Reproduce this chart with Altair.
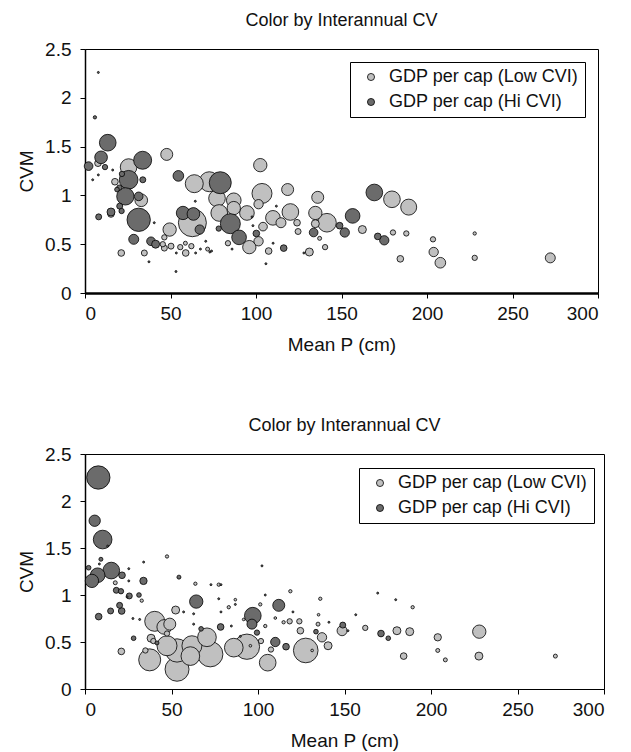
import altair as alt
import pandas as pd

LOW = "GDP per cap (Low CVI)"
HI = "GDP per cap (Hi CVI)"
TITLE = "Color by Interannual CV"
FONT = "Liberation Sans"

# ---------------- top panel (bubble size = GDP per cap) ----------------
top_x = [7.8, 5.8, 13.3, 9.4, 7.6, 2.1, 11.7, 4.5, 7.8, 16.2, 25.5, 25.5, 33.7, 21.6, 17.5, 33.8,
         20.1, 18.7, 23.6, 31.4, 32.9, 20.3, 15.2, 15.2, 21.4, 8.0, 31.4, 40.5, 28.5, 21.2, 34.7,
         37.4, 38.6, 41.3, 47.8, 54.6, 49.5, 46.4, 46.4, 45.5, 50.3, 53.4, 53.2, 55.7, 58.7, 58.9,
         62.2, 64.7, 57.3, 62.8, 63.4, 63.9, 64.5, 67.1, 70.6, 67.5, 71.7, 73.0, 74.0, 72.7, 79.1,
         77.2, 78.5, 87.0, 87.0, 85.0, 90.1, 94.7, 96.1, 83.6, 86.0, 78.2, 97.7, 98.2, 100.2,
         102.5, 101.5, 103.5, 118.5, 111.9, 120.1, 109.9, 114.6, 124.0, 124.6, 104.1, 101.5,
         107.4, 110.0, 116.2, 105.8, 131.2, 128.0, 140.4, 136.1, 134.7, 141.5, 134.7, 137.2,
         133.7, 148.9, 151.9, 156.5, 162.2, 169.2, 179.5, 189.3, 171.2, 175.0, 180.1, 187.9,
         184.4, 203.5, 203.9, 207.8, 227.9, 227.9, 272.1]
top_y = [2.26, 1.80, 1.54, 1.39, 1.33, 1.30, 1.29, 1.16, 1.21, 1.26, 1.29, 1.16, 1.36, 1.22, 1.14, 1.16,
         1.08, 1.06, 0.99, 0.99, 0.95, 0.89, 0.83, 0.81, 0.84, 0.78, 0.75, 0.72, 0.55, 0.41, 0.41,
         0.32, 0.53, 0.50, 1.42, 1.20, 0.65, 0.57, 0.46, 0.50, 0.48, 0.41, 0.22, 0.47, 0.51, 0.41,
         0.48, 0.41, 0.82, 0.72, 0.81, 1.12, 0.94, 0.65, 0.53, 0.45, 0.45, 0.42, 0.43, 1.14, 1.13,
         0.97, 0.82, 0.95, 0.87, 0.71, 0.57, 0.82, 0.47, 0.51, 0.45, 0.66, 0.78, 0.69, 0.61,
         1.31, 0.91, 1.02, 1.06, 0.89, 0.83, 0.77, 0.72, 0.72, 0.63, 0.68, 0.53,
         0.43, 0.51, 0.46, 0.30, 0.42, 0.41, 0.47, 0.98, 0.82, 0.72, 0.71, 0.56,
         0.62, 0.69, 0.62, 0.79, 0.65, 1.03, 0.96, 0.88, 0.58, 0.54, 0.62, 0.61,
         0.35, 0.55, 0.42, 0.31, 0.61, 0.36, 0.36]
top_gdp = [0.09, 0.25, 6.25, 3.61, 1.0, 1.69, 0.64, 0.09, 0.09, 0.09, 6.25, 7.84, 7.29, 0.64, 1.0, 0.81,
           0.64, 0.49, 6.76, 1.69, 3.61, 0.81, 1.44, 1.0, 0.64, 0.81, 12.25, 0.09, 2.25, 1.0, 0.81,
           0.09, 1.69, 1.44, 3.24, 2.56, 4.0, 0.64, 0.81, 0.64, 0.81, 0.09, 0.09, 0.64, 0.36, 1.0,
           0.64, 0.09, 4.0, 17.64, 3.61, 7.29, 0.09, 1.96, 0.09, 0.09, 0.36, 0.09, 0.09, 9.0, 10.89,
           6.25, 6.25, 4.84, 4.0, 9.0, 4.84, 4.84, 4.0, 0.64, 0.09, 0.64, 0.09, 0.09, 1.0,
           4.0, 1.96, 9.0, 3.24, 0.09, 6.25, 4.84, 2.25, 1.0, 0.81, 1.69, 1.96,
           1.0, 0.09, 1.0, 0.09, 1.44, 0.09, 0.64, 3.24, 4.0, 7.84, 1.44, 0.36,
           1.69, 1.0, 1.96, 4.84, 1.44, 6.25, 6.25, 5.76, 1.0, 1.96, 0.64, 0.64,
           1.0, 0.64, 1.96, 2.56, 0.25, 0.64, 2.25]
top_cvi = ["H", "H", "H", "H", "L", "H", "H", "H", "H", "H", "L", "H", "H", "H", "L", "H",
           "H", "H", "H", "H", "L", "H", "H", "L", "H", "H", "H", "H", "H", "L", "L",
           "H", "H", "H", "L", "H", "L", "L", "L", "L", "L", "H", "H", "L", "L", "L",
           "L", "H", "H", "L", "H", "L", "H", "H", "H", "H", "L", "H", "H", "L", "H",
           "L", "L", "L", "L", "H", "H", "L", "L", "L", "H", "H", "H", "H", "H",
           "L", "L", "L", "L", "H", "L", "L", "L", "L", "L", "L", "L",
           "L", "H", "H", "H", "L", "H", "L", "L", "L", "L", "L", "L",
           "H", "H", "H", "H", "L", "H", "L", "L", "H", "H", "L", "L",
           "L", "L", "L", "L", "L", "L", "L"]

# ---------------- bottom panel ----------------
bot_x = [7.7, 5.6, 10.2, 13.1, 9.2, 8.3, 2.1, 7.3, 4.0, 15.2, 21.4, 25.3, 25.3, 33.9, 33.8, 17.5,
         18.1, 20.8, 25.6, 24.3, 31.2, 32.8, 20.0, 14.8, 21.2, 7.9, 27.7, 31.6, 40.3, 45.8, 49.0,
         52.4, 54.3, 47.4, 28.1, 21.0, 38.2, 37.4, 41.6, 53.2, 53.2, 47.4, 72.4, 70.5, 61.8, 60.9,
         64.3, 62.8, 57.0, 67.1, 62.8, 63.8, 72.8, 77.3, 78.6, 77.3, 78.6, 78.4, 83.1, 86.9, 86.9,
         84.6, 86.0, 89.8, 93.6, 95.6, 97.0, 91.7, 34.9, 47.4, 39.5, 102.3, 96.5, 112.0, 118.7,
         104.2, 101.3, 120.2, 110.0, 114.8, 118.3, 123.9, 124.5, 104.2, 99.4, 101.7, 110.0, 107.5,
         105.6, 116.2, 127.6, 131.3, 136.0, 135.0, 141.0, 134.7, 133.5, 137.0, 140.5, 148.6,
         149.0, 152.0, 156.5, 162.0, 169.2, 171.1, 175.3, 179.6, 180.3, 187.7, 184.2, 189.4,
         203.9, 203.9, 208.3, 227.9, 227.7, 271.9]
bot_y = [2.25, 1.79, 1.59, 1.52, 1.38, 1.33, 1.29, 1.21, 1.15, 1.26, 1.21, 1.28, 1.15, 1.35, 1.15, 1.13,
         1.05, 1.04, 0.99, 0.98, 1.00, 0.94, 0.89, 0.83, 0.83, 0.77, 0.75, 0.74, 0.72, 0.66, 0.69,
         0.84, 1.19, 1.41, 0.54, 0.40, 0.54, 0.31, 0.49, 0.41, 0.21, 0.46, 0.37, 0.55, 0.46, 0.35,
         0.93, 0.80, 0.82, 0.64, 0.69, 1.12, 1.11, 1.11, 1.11, 0.96, 0.82, 0.66, 0.87, 0.90, 0.95,
         0.67, 0.44, 0.56, 0.45, 0.46, 0.78, 0.74, 0.41, 0.59, 0.51, 1.31, 0.69, 0.89, 1.04,
         1.00, 0.90, 0.82, 0.755, 0.71, 0.72, 0.72, 0.62, 0.67, 0.60, 0.51, 0.50, 0.42,
         0.28, 0.45, 0.41, 0.41, 0.96, 0.79, 0.71, 0.69, 0.61, 0.55, 0.46, 0.62,
         0.68, 0.62, 0.79, 0.65, 1.02, 0.59, 0.54, 0.95, 0.62, 0.61, 0.35, 0.87,
         0.55, 0.41, 0.31, 0.61, 0.35, 0.35]
bot_gdp = [12.25, 2.89, 7.84, 0.09, 0.36, 0.09, 0.49, 4.84, 4.0, 6.25, 1.0, 0.09, 0.09, 0.09, 1.21, 0.36,
           0.81, 0.64, 0.81, 0.09, 0.49, 0.25, 0.81, 0.81, 1.0, 1.0, 0.09, 0.09, 9.0, 4.84, 3.24,
           1.44, 0.36, 0.25, 0.49, 1.0, 1.44, 10.89, 0.36, 12.25, 12.96, 9.0, 14.44, 7.84, 9.0, 7.84,
           4.0, 0.09, 0.09, 0.49, 0.09, 0.25, 0.09, 0.25, 0.09, 0.09, 0.09, 1.0, 0.25, 0.09, 0.16,
           0.09, 7.84, 0.09, 14.44, 0.16, 6.25, 0.16, 0.64, 0.64, 0.64, 0.09, 2.25, 3.24, 0.25,
           0.09, 0.25, 0.09, 0.16, 0.25, 0.64, 0.64, 1.0, 0.25, 0.64, 0.64, 1.96, 0.64,
           6.25, 1.0, 13.69, 0.16, 0.25, 0.16, 0.09, 0.36, 0.49, 1.96, 1.44, 2.25,
           0.81, 0.09, 0.09, 0.64, 0.09, 1.0, 0.49, 0.09, 1.44, 1.44, 1.0, 0.25,
           1.21, 0.36, 0.36, 4.0, 1.44, 0.36]
bot_cvi = ["H", "H", "H", "H", "H", "H", "H", "H", "H", "H", "H", "H", "H", "H", "H", "L",
           "H", "H", "H", "H", "H", "L", "H", "H", "H", "H", "H", "H", "L", "L", "L",
           "L", "H", "L", "H", "L", "L", "L", "H", "L", "L", "L", "L", "L", "L", "L",
           "H", "H", "H", "H", "H", "L", "H", "L", "H", "H", "H", "H", "L", "H", "L",
           "H", "L", "H", "L", "L", "H", "L", "L", "L", "L", "H", "H", "H", "L",
           "H", "L", "H", "L", "L", "L", "L", "L", "L", "H", "L", "H", "L",
           "L", "H", "L", "L", "L", "L", "H", "L", "H", "L", "L", "L",
           "H", "H", "H", "L", "H", "H", "H", "H", "L", "L", "L", "L",
           "L", "L", "L", "L", "L", "L"]

X_TICKS = [0, 50, 100, 150, 200, 250, 300]
Y_TICKS = [0, 0.5, 1, 1.5, 2, 2.5]
LABELS = {"L": LOW, "H": HI}


def frame(xs, ys, gdp, cvi):
    df = pd.DataFrame({"x": xs, "y": ys, "gdp": gdp, "cvi": [LABELS[c] for c in cvi]})
    # low-CVI series drawn first, larger bubbles underneath
    df["z"] = [(100 if c == "H" else 0) - g for c, g in zip(cvi, gdp)]
    return df


def panel(df, w, h, lx, ly, xdw):
    return alt.Chart(df).mark_circle(opacity=1, stroke="black", strokeWidth=0.8).encode(
        x=alt.X("x:Q", scale=alt.Scale(domain=[0, 300], nice=False),
                axis=alt.Axis(values=X_TICKS, title="Mean P (cm)", grid=False, domainWidth=xdw,
                              domainColor="black", tickColor="black", tickSize=5,
                              labelPadding=6, titlePadding=12, labelFontSize=19,
                              titleFontSize=19, labelFont=FONT, titleFont=FONT,
                              titleFontWeight="normal", labelColor="#111", titleColor="#111")),
        y=alt.Y("y:Q", scale=alt.Scale(domain=[0, 2.5], nice=False),
                axis=alt.Axis(values=Y_TICKS, format="~g", title="CVM", grid=False,
                              domainColor="black", domainWidth=1.5, tickColor="black",
                              tickSize=5, labelPadding=9, titlePadding=8, labelFontSize=19,
                              titleFontSize=19, labelFont=FONT, titleFont=FONT,
                              titleFontWeight="normal", labelColor="#111", titleColor="#111")),
        size=alt.Size("gdp:Q", scale=alt.Scale(domain=[0, 20], range=[0, 889]), legend=None),
        color=alt.Color("cvi:N", scale=alt.Scale(domain=[LOW, HI], range=["#c0c0c0", "#6b6b6b"]),
                        legend=alt.Legend(title=None, orient="none", legendX=lx, legendY=ly,
                                          fillColor="white", strokeColor="black", padding=6,
                                          rowPadding=7, labelFontSize=18, labelFont=FONT,
                                          labelColor="#111", symbolType="circle", symbolSize=50,
                                          symbolStrokeColor="black", symbolStrokeWidth=0.8,
                                          symbolOffset=6, labelOffset=9, labelLimit=0)),
        order=alt.Order("z:Q"),
    ).properties(
        width=w, height=h,
        title=alt.TitleParams(TITLE, fontSize=18, font=FONT, fontWeight="normal",
                              color="#111", offset=10, anchor="middle"),
    )


top = panel(frame(top_x, top_y, top_gdp, top_cvi), 513, 244, 265, 13, 2.5)
bottom = panel(frame(bot_x, bot_y, bot_gdp, bot_cvi), 519, 235, 274, 14, 1)

chart = alt.vconcat(top, bottom, spacing=61).resolve_scale(color="independent").resolve_legend(
    color="independent").configure_view(stroke="black", strokeWidth=1).properties(
    padding={"left": 9, "top": 3, "right": 5, "bottom": 2})

chart.save("out.html", embed_options={"renderer": "svg", "actions": False})
